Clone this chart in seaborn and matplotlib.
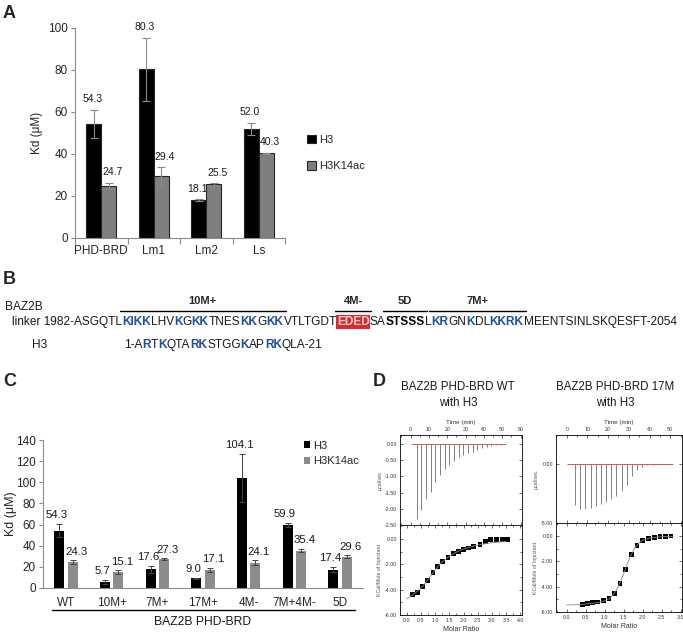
import numpy as np
import pandas as pd
import matplotlib
matplotlib.use("Agg")
import matplotlib.pyplot as plt
import seaborn as sns
from matplotlib import font_manager
from matplotlib.lines import Line2D
from matplotlib.ticker import FormatStrFormatter, MultipleLocator

# ---------------- data ----------------
series = ["H3", "H3K14ac"]

# Panel A - Kd (uM)
a_groups = ["PHD-BRD", "Lm1", "Lm2", "Ls"]
a_h3 = [54.3, 80.3, 18.1, 52.0]
a_h3_err = [6.8, 15.0, 0.3, 2.8]
a_ac = [24.7, 29.4, 25.5, 40.3]
a_ac_err = [1.6, 4.3, 0.5, 0.4]

# Panel C - Kd (uM)
c_groups = ["WT", "10M+", "7M+", "17M+", "4M-", "7M+4M-", "5D"]
c_h3 = [54.3, 5.7, 17.6, 9.0, 104.1, 59.9, 17.4]
c_h3_err = [6.3, 2.0, 3.5, 0.6, 23.0, 2.0, 2.5]
c_ac = [24.3, 15.1, 27.3, 17.1, 24.1, 35.4, 29.6]
c_ac_err = [2.0, 1.5, 1.0, 2.0, 2.0, 1.8, 1.5]

# Panel B - sequences (text, style, group)
# n = normal, p = positive (blue bold), m = negative (red box), s = bold black
linker_seq = [
    ("linker 1982-ASGQTL", "n", ""), ("KIKK", "p", "10M+"), ("LHV", "n", "10M+"),
    ("K", "p", "10M+"), ("G", "n", "10M+"), ("KK", "p", "10M+"), ("TNES", "n", "10M+"),
    ("KK", "p", "10M+"), ("G", "n", "10M+"), ("KK", "p", "10M+"), ("VTLTGDT", "n", ""),
    ("EDED", "m", "4M-"), ("SA", "n", ""), ("STSSS", "s", "5D"), ("L", "n", ""),
    ("KR", "p", "7M+"), ("GN", "n", "7M+"), ("K", "p", "7M+"), ("DL", "n", "7M+"),
    ("KKRK", "p", "7M+"), ("MEENTSINLSKQESFT-2054", "n", ""),
]
h3_seq = [
    ("1-A", "n", ""), ("R", "p", ""), ("T", "n", ""), ("K", "p", ""), ("QTA", "n", ""),
    ("RK", "p", ""), ("STGG", "n", ""), ("K", "p", ""), ("AP", "n", ""), ("RK", "p", ""),
    ("QLA-21", "n", ""),
]

# Panel D - ITC, WT with H3
wt_time = [3.3, 5.9, 8.4, 11.0, 13.5, 16.1, 18.6, 21.2, 23.7, 26.3, 28.8, 31.4,
           33.9, 36.5, 39.0, 41.6, 44.1, 46.7, 49.2]
wt_peak = [-2.31, -2.03, -1.69, -1.49, -1.18, -0.95, -0.76, -0.64, -0.52, -0.41,
           -0.33, -0.27, -0.23, -0.18, -0.12, -0.09, -0.05, -0.04, -0.03]
wt_ratio = [0.21, 0.39, 0.56, 0.74, 0.92, 1.09, 1.27, 1.45, 1.64, 1.81, 1.99, 2.18,
            2.36, 2.58, 2.76, 2.96, 3.16, 3.36, 3.56]
wt_heat = [-4.37, -4.21, -3.76, -3.26, -2.66, -2.18, -1.76, -1.45, -1.16, -1.00,
           -0.84, -0.71, -0.58, -0.47, -0.18, -0.05, -0.03, -0.05, -0.05]
wt_fit_x = [0.0, 0.2, 0.4, 0.6, 0.8, 1.0, 1.2, 1.4, 1.6, 1.8, 2.0, 2.2, 2.4, 2.6,
            2.8, 3.0, 3.2, 3.5]
wt_fit_y = [-4.72, -4.42, -4.08, -3.62, -3.05, -2.42, -1.92, -1.52, -1.22, -0.98,
            -0.80, -0.66, -0.54, -0.44, -0.36, -0.30, -0.25, -0.20]

# Panel D - ITC, 17M with H3
m17_time = [4.0, 6.5, 9.0, 11.5, 14.0, 16.5, 19.0, 21.5, 24.0, 26.5, 29.0, 31.5,
            34.0, 36.5, 39.0, 41.5, 44.0]
m17_peak = [-3.50, -3.85, -3.85, -3.72, -3.58, -3.40, -3.20, -3.00, -2.72, -2.30,
            -1.75, -1.05, -0.50, -0.22, -0.10, -0.05, -0.03]
m17_ratio = [0.42, 0.55, 0.68, 0.82, 0.96, 1.11, 1.25, 1.40, 1.55, 1.70, 1.85, 1.99,
             2.15, 2.30, 2.45, 2.59, 2.74]
m17_heat = [-5.39, -5.32, -5.26, -5.21, -5.10, -4.92, -4.53, -3.74, -2.63, -1.45,
            -0.74, -0.37, -0.21, -0.10, -0.05, -0.03, 0.00]
m17_fit_x = [0.0, 0.4, 0.8, 1.0, 1.1, 1.2, 1.3, 1.4, 1.5, 1.6, 1.7, 1.8, 1.9, 2.0,
             2.2, 2.5, 2.8]
m17_fit_y = [-5.45, -5.40, -5.27, -5.12, -4.98, -4.72, -4.30, -3.70, -2.95, -2.15,
             -1.45, -0.90, -0.55, -0.33, -0.14, -0.05, -0.02]

# ---------------- figure ----------------
sns.set_theme(style="white")
plt.rcParams["font.family"] = ["Liberation Sans", "DejaVu Sans"]

# narrow face for the sequence line if the system has it
installed = {f.name for f in font_manager.fontManager.ttflist}
seq_family = "Liberation Sans Narrow" if "Liberation Sans Narrow" in installed else "Liberation Sans"

W, H = 683, 637
fig = plt.figure(figsize=(W / 100, H / 100), dpi=100)


def add_ax(l, t, r, b):
    return fig.add_axes([l / W, 1 - b / H, (r - l) / W, (b - t) / H])


def ftext(x, y, s, **kw):
    return fig.text(x / W, 1 - y / H, s, **kw)


def fline(x0, x1, y, **kw):
    fig.add_artist(Line2D([x0 / W, x1 / W], [1 - y / H, 1 - y / H],
                          transform=fig.transFigure, **kw))


def bar_labels(ax, errs_list, dx_list, size, dy):
    # error bars + value labels on top of seaborn's bars
    for cont, errs, dx in zip(ax.containers, errs_list, dx_list):
        xs = [b.get_x() + b.get_width() / 2 for b in cont]
        ys = [b.get_height() for b in cont]
        yield xs, ys, errs
        for x, y, e in zip(xs, ys, errs):
            ax.annotate(f"{y:.1f}", (x, y + e), xytext=(dx, dy), textcoords="offset points",
                        ha="center", va="bottom", fontsize=size, color="#1a1a1a")


for letter, x, y in [("A", 3, 13), ("B", 3, 279), ("C", 3, 382), ("D", 373, 382)]:
    ftext(x, y, letter, fontsize=13, fontweight="bold", va="center", ha="left")

# ---------------- panel A ----------------
dfa = pd.DataFrame({"grp": a_groups * 2,
                    "serie": [series[0]] * 4 + [series[1]] * 4,
                    "kd": a_h3 + a_ac})
axA = add_ax(75, 28, 285, 238)
sns.barplot(data=dfa, x="grp", y="kd", hue="serie", palette=["black", "#7f7f7f"],
            width=0.57, gap=0, errorbar=None, edgecolor="#262626", linewidth=0.8, ax=axA)
for xs, ys, errs in bar_labels(axA, [a_h3_err, a_ac_err], [-1, 2.5], 7.5, 4):
    axA.errorbar(xs, ys, yerr=errs, fmt="none", ecolor="#8a8a8a", elinewidth=0.8,
                 capsize=3, capthick=0.8)
axA.set_xlim(-0.5, 3.5)
axA.set_ylim(0, 100)
axA.set_yticks(range(0, 101, 20))
axA.set_xlabel("")
axA.set_ylabel("Kd (μM)", fontsize=8.5)
for s in ["top", "right"]:
    axA.spines[s].set_visible(False)
for s in ["left", "bottom"]:
    axA.spines[s].set_color("#8c8c8c")
    axA.spines[s].set_linewidth(0.8)
axA.tick_params(axis="y", length=3, width=0.8, color="#8c8c8c", labelsize=8.5, pad=2, left=True)
axA.tick_params(axis="x", which="major", length=0, labelsize=8.5, pad=5)
axA.set_xticks([-0.5, 0.5, 1.5, 2.5, 3.5], minor=True)
axA.tick_params(axis="x", which="minor", length=4, width=0.8, color="#8c8c8c", bottom=True)
h, l = axA.get_legend_handles_labels()
axA.legend(h, l, loc="center left", bbox_to_anchor=(307 / W, 1 - 153 / H),
           bbox_transform=fig.transFigure, frameon=False, fontsize=8, handlelength=0.8,
           handleheight=0.8, handletextpad=0.3, labelspacing=1.45, borderpad=0,
           borderaxespad=0)

# ---------------- panel B ----------------
renderer = fig.canvas.get_renderer()
seq_styles = {
    "n": dict(color="#1a1a1a"),
    "p": dict(color="#1f4fa3", fontweight="bold"),
    "m": dict(color="#ffd6d6", fontweight="bold",
              bbox=dict(facecolor="#e4262c", edgecolor="none", pad=0.4)),
    "s": dict(color="black", fontweight="bold"),
}


def draw_seq(pieces, x0, y, size):
    x = x0
    arts = []
    spans = {}
    for txt, st, grp in pieces:
        t = ftext(x, y, txt, fontsize=size, va="center", ha="left", family=seq_family,
                  **seq_styles[st])
        arts.append(t)
        bb = t.get_window_extent(renderer)
        if grp:
            lo, hi = spans.get(grp, (bb.x0, bb.x1))
            spans[grp] = (min(lo, bb.x0), max(hi, bb.x1))
        x += bb.width
    return arts, x - x0, spans


arts, width, _ = draw_seq(linker_seq, 12, 322, 8)
for a in arts:
    a.remove()
seq_size = 8 * 668 / width
arts, width, spans = draw_seq(linker_seq, 12, 322, seq_size)
draw_seq(h3_seq, 124, 345.5, seq_size)
ftext(5, 307.5, "BAZ2B", fontsize=seq_size, va="center", ha="left", color="#1a1a1a",
      family=seq_family)
ftext(32, 345.5, "H3", fontsize=seq_size, va="center", ha="left", color="#1a1a1a",
      family=seq_family)
for grp, (lo, hi) in spans.items():
    fline(lo - 2, hi + 2, 311, color="black", lw=1.0)
    ftext((lo + hi) / 2, 301, grp, fontsize=8, fontweight="bold", ha="center", va="center",
          family=seq_family)

# ---------------- panel C ----------------
dfc = pd.DataFrame({"grp": c_groups * 2,
                    "serie": [series[0]] * 7 + [series[1]] * 7,
                    "kd": c_h3 + c_ac})
axC = add_ax(43, 440, 363, 588)
sns.barplot(data=dfc, x="grp", y="kd", hue="serie", palette=["black", "#8c8c8c"],
            width=0.584, gap=0.25, errorbar=None, linewidth=0, ax=axC)
for xs, ys, errs in bar_labels(axC, [c_h3_err, c_ac_err], [-2, 2.5], 8.2, 2.5):
    axC.errorbar(xs, ys, yerr=errs, fmt="none", ecolor="#444444", elinewidth=0.7,
                 capsize=2, capthick=0.7)
axC.set_xlim(-0.5, 6.5)
axC.set_ylim(0, 140)
axC.set_yticks(range(0, 141, 20))
axC.set_xlabel("")
axC.set_ylabel("Kd (μM)", fontsize=9)
axC.yaxis.set_label_coords(-0.08, 0.5)
for s in ["top", "right"]:
    axC.spines[s].set_visible(False)
for s in ["left", "bottom"]:
    axC.spines[s].set_color("#8c8c8c")
    axC.spines[s].set_linewidth(0.8)
axC.tick_params(axis="y", length=3, width=0.8, color="#8c8c8c", labelsize=8.5, pad=2, left=True)
axC.tick_params(axis="x", length=0, labelsize=8.5, pad=6.5)
h, l = axC.get_legend_handles_labels()
axC.legend(h, l, loc="center left", bbox_to_anchor=(304 / W, 1 - 453.5 / H),
           bbox_transform=fig.transFigure, frameon=False, fontsize=8, handlelength=0.55,
           handleheight=0.55, handletextpad=0.25, labelspacing=0.5, borderpad=0,
           borderaxespad=0)
fline(52, 355, 610, color="black", lw=1.0)
ftext(203, 622, "BAZ2B PHD-BRD", fontsize=8.7, ha="center", va="center", color="#1a1a1a")

# ---------------- panel D ----------------
itc_panels = [
    dict(box=(400, 435, 522, 525, 615), title="BAZ2B PHD-BRD WT", cx=458,
         time=wt_time, peak=wt_peak, base_end=52, tlim=(-5.8, 60.8), tticks=range(0, 61, 10),
         ylim_top=(-2.5, 0.28), yticks_top=[0, -0.5, -1.0, -1.5, -2.0, -2.5],
         ratio=wt_ratio, heat=wt_heat, fx=wt_fit_x, fy=wt_fit_y,
         rlim=(-0.24, 4.06), rticks=np.arange(0, 4.01, 0.5), ylim_bot=(-6, 1.1)),
    dict(box=(556, 435, 682, 523, 612), title="BAZ2B PHD-BRD 17M", cx=615,
         time=m17_time, peak=m17_peak, base_end=51.5, tlim=(-5.2, 55.7), tticks=range(0, 51, 10),
         ylim_top=(-5.0, 2.46), yticks_top=[0, -5.0],
         ratio=m17_ratio, heat=m17_heat, fx=m17_fit_x, fy=m17_fit_y,
         rlim=(-0.28, 3.03), rticks=np.arange(0, 3.01, 0.5), ylim_bot=(-6, 1.03)),
]

for p in itc_panels:
    l, t, r, mid, b = p["box"]
    ftext(p["cx"], 387, p["title"], fontsize=8.3, ha="center", va="center", color="#1a1a1a")
    ftext(p["cx"], 403, "with H3", fontsize=8.3, ha="center", va="center", color="#1a1a1a")

    axt = add_ax(l, t, r, mid)
    axt.vlines(p["time"], p["peak"], 0, color="#6e6e6e", lw=0.6)
    axt.hlines(0, 0, p["base_end"], color="#d9534f", lw=0.7)
    axt.set_xlim(*p["tlim"])
    axt.set_ylim(*p["ylim_top"])
    axt.set_xticks(list(p["tticks"]))
    axt.set_yticks(p["yticks_top"])
    axt.xaxis.set_minor_locator(MultipleLocator(5))
    axt.yaxis.set_major_formatter(FormatStrFormatter("%.2f"))
    axt.xaxis.set_label_position("top")
    axt.set_xlabel("Time (min)", fontsize=4.5, labelpad=2, color="#333333")
    axt.set_ylabel("μcal/sec", fontsize=3.8, labelpad=2, color="#555555")
    axt.tick_params(which="both", direction="in", top=True, bottom=True, left=True, right=True,
                    labeltop=True, labelbottom=False, labelsize=3.8, length=2.5, width=0.5,
                    pad=2, colors="#333333")
    axt.tick_params(which="minor", length=1.3)

    axb = add_ax(l, mid, r, b)
    sns.lineplot(x=p["fx"], y=p["fy"], color="#8a8a8a", lw=0.6, ax=axb)
    sns.scatterplot(x=p["ratio"], y=p["heat"], marker="s", s=12, color="black",
                    edgecolor="none", ax=axb)
    axb.set_xlim(*p["rlim"])
    axb.set_ylim(*p["ylim_bot"])
    axb.set_xticks(p["rticks"])
    axb.set_yticks([0, -2, -4, -6])
    axb.xaxis.set_major_formatter(FormatStrFormatter("%.1f"))
    axb.yaxis.set_major_formatter(FormatStrFormatter("%.2f"))
    axb.xaxis.set_minor_locator(MultipleLocator(0.25))
    axb.yaxis.set_minor_locator(MultipleLocator(1))
    axb.set_xlabel("Molar Ratio", fontsize=5, labelpad=2, color="#333333")
    axb.set_ylabel("KCal/Mole of Injectant", fontsize=3.8, labelpad=2, color="#555555")
    axb.tick_params(which="both", direction="in", top=True, bottom=True, left=True, right=True,
                    labelsize=3.8, length=2.5, width=0.5, pad=2, colors="#333333")
    axb.tick_params(which="minor", length=1.3)
    for ax in (axt, axb):
        for s in ax.spines.values():
            s.set_color("black")
            s.set_linewidth(0.6)

fig.savefig("out.png", dpi=100)
